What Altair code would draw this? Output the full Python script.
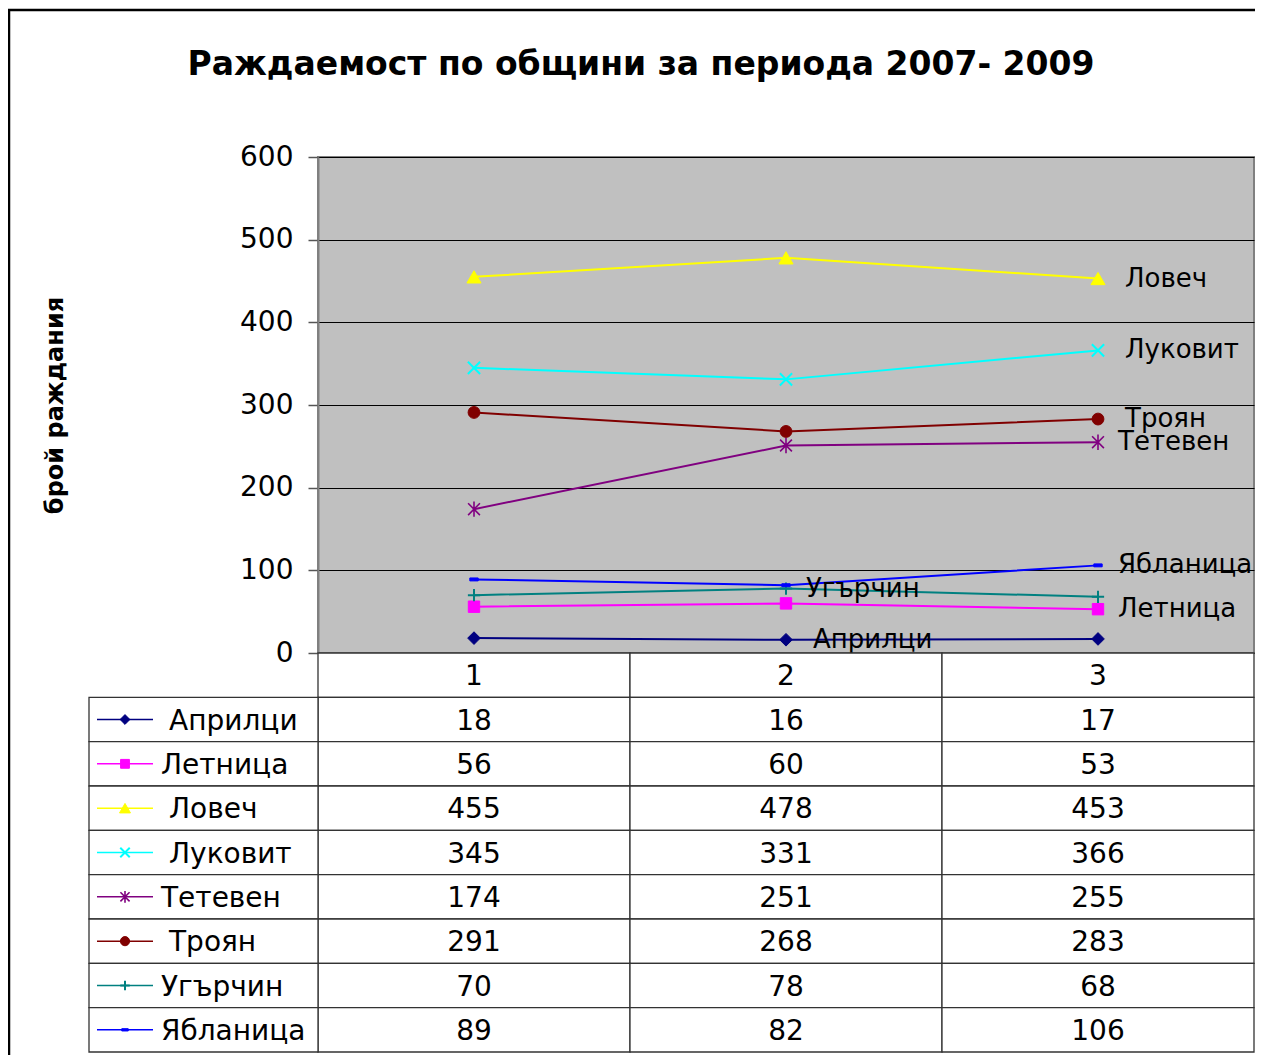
import altair as alt
import pandas as pd

# ---------------- data ----------------
series = ['Априлци', 'Летница', 'Ловеч', 'Луковит', 'Тетевен', 'Троян', 'Угърчин', 'Ябланица']
categories = ['1', '2', '3']
values_1 = [18, 56, 455, 345, 174, 291, 70, 89]
values_2 = [16, 60, 478, 331, 251, 268, 78, 82]
values_3 = [17, 53, 453, 366, 255, 283, 68, 106]
label_category = ['2', '3', '3', '3', '3', '3', '2', '3']
y_ticks = [0, 100, 200, 300, 400, 500, 600]
title_text = 'Раждаемост по общини за периода 2007- 2009'
y_title = 'брой раждания'

# ---------------- styles ----------------
colors = ['#000080', '#FF00FF', '#FFFF00', '#00FFFF', '#800080', '#800000', '#008080', '#0000FF']
shapes = ['diamond', 'square', 'triangle-up',
          'M-1,-1L1,1M-1,1L1,-1',
          'M-1,-1L1,1M-1,1L1,-1M0,-1.3L0,1.3',
          'circle',
          'M-1,0L1,0M0,-1L0,1',
          'M-1,-0.35L1,-0.35L1,0.35L-1,0.35Z']
sizes = [160, 130, 200, 150, 140, 140, 150, 70]
stroke_ws = [1, 1, 1, 2, 1.6, 1, 2, 1]
indented = [True, False, True, True, False, True, False, False]
FONT = 'DejaVu Sans'

value_cols = [values_1, values_2, values_3]

# ---------------- tables built from the arrays ----------------
long = pd.DataFrame([
    {'series': s, 'cat': c, 'value': value_cols[j][i]}
    for i, s in enumerate(series) for j, c in enumerate(categories)
])
labels = pd.DataFrame([
    {'series': s, 'cat': label_category[i],
     'value': value_cols[categories.index(label_category[i])][i],
     'indent': indented[i]}
    for i, s in enumerate(series)
])
row_keys = ['hdr'] + series
cells = pd.DataFrame(
    [{'row': 'hdr', 'cat': c, 'txt': c} for c in categories] +
    [{'row': s, 'cat': c, 'txt': str(value_cols[j][i])}
     for i, s in enumerate(series) for j, c in enumerate(categories)]
)
legend_rows = pd.DataFrame([{'row': s, 'series': s, 'indent': indented[i]} for i, s in enumerate(series)])
frame_df = pd.DataFrame({'k': [0]})

# ---------------- scales ----------------
xscale = alt.Scale(type='band', domain=categories, paddingInner=0, paddingOuter=0)
color_scale = alt.Scale(domain=series, range=colors)
X_band = alt.X('cat:N', scale=xscale, axis=None)
X_mid = alt.X('cat:N', scale=xscale, axis=None, bandPosition=0.5)

y_axis = alt.Axis(
    values=y_ticks, title=y_title,
    titleFont=FONT, titleFontSize=24, titleFontWeight='bold', titleColor='black',
    titleAngle=270, titleX=-263, titleY=248, titleAlign='center', titleBaseline='middle',
    labelFont=FONT, labelFontSize=28, labelColor='black', labelPadding=15,
    tickSize=10, tickColor='#555555', tickWidth=1.5,
    domainColor='#808080', domainWidth=2,
    grid=True, gridColor='#000000', gridWidth=1,
)
Y_val = alt.Y('value:Q', scale=alt.Scale(domain=[0, 600], nice=False), axis=y_axis)

yrow_scale = alt.Scale(type='band', domain=row_keys, range=[496, 895], paddingInner=0, paddingOuter=0)
Y_row = alt.Y('row:N', scale=yrow_scale, axis=None)
Y_row_mid = alt.Y('row:N', scale=yrow_scale, axis=None, bandPosition=0.5)

# ---------------- plot group ----------------
lines = alt.Chart(long).mark_line(strokeWidth=2).encode(
    x=X_mid, y=Y_val,
    color=alt.Color('series:N', scale=color_scale, legend=None),
)

plot_layers = [lines]
for i, s in enumerate(series):
    plot_layers.append(
        alt.Chart(long).transform_filter(alt.datum.series == s).mark_point(
            shape=shapes[i], size=sizes[i], filled=True, fill=colors[i], stroke=colors[i],
            strokeWidth=stroke_ws[i], opacity=1
        ).encode(x=X_mid, y=alt.Y('value:Q'))
    )

for ind, dx in [(True, 27), (False, 20)]:
    plot_layers.append(
        alt.Chart(labels).transform_filter(alt.datum.indent == ind).mark_text(
            align='left', baseline='middle', dx=dx, font=FONT, fontSize=26, color='black'
        ).encode(x=X_mid, y=alt.Y('value:Q'), text='series:N')
    )

plot_group = alt.layer(*plot_layers)

# ---------------- data table group ----------------
value_cells = alt.Chart(cells).mark_rect(fill='white', stroke='#333333', strokeWidth=1.3).encode(
    x=X_band, y=Y_row
)
legend_cells = alt.Chart(legend_rows).mark_rect(fill='white', stroke='#333333', strokeWidth=1.3).encode(
    x=alt.value(-229), x2=alt.value(0), y=Y_row
)
value_text = alt.Chart(cells).mark_text(
    align='center', baseline='middle', font=FONT, fontSize=28, color='black', dy=2
).encode(x=X_mid, y=Y_row_mid, text='txt:N')

legend_lines = alt.Chart(legend_rows).mark_rule(strokeWidth=1.5).encode(
    x=alt.value(-221), x2=alt.value(-165), y=Y_row_mid,
    color=alt.Color('series:N', scale=color_scale, legend=None),
)
table_layers = [value_cells, legend_cells, value_text, legend_lines]
for i, s in enumerate(series):
    table_layers.append(
        alt.Chart(legend_rows).transform_filter(alt.datum.series == s).mark_point(
            shape=shapes[i], size=sizes[i] * 0.6, filled=True, fill=colors[i], stroke=colors[i],
            strokeWidth=stroke_ws[i], opacity=1
        ).encode(x=alt.value(-193), y=Y_row_mid)
    )
for ind, xpos in [(True, -149), (False, -157)]:
    table_layers.append(
        alt.Chart(legend_rows).transform_filter(alt.datum.indent == ind).mark_text(
            align='left', baseline='middle', font=FONT, fontSize=28, color='black', dy=2
        ).encode(x=alt.value(xpos), y=Y_row_mid, text='series:N')
    )
table_group = alt.layer(*table_layers)

# ---------------- outer frame ----------------
frame = alt.Chart(frame_df).mark_rect(fillOpacity=0, stroke='black', strokeWidth=2.5).encode(
    x=alt.value(-309), x2=alt.value(1000), y=alt.value(-147), y2=alt.value(1000)
)

chart = alt.layer(frame, plot_group, table_group).resolve_scale(y='independent').properties(
    width=936, height=496,
    autosize=alt.AutoSizeParams(type='none'),
    padding={'left': 310, 'top': 149, 'right': 1, 'bottom': 402},
    title=alt.Title(title_text, font=FONT, fontSize=33, fontWeight='bold', color='black',
                    anchor='middle', frame='group', dx=-145, offset=-99, baseline='alphabetic'),
).configure(font=FONT).configure_view(fill='#C0C0C0', stroke='#808080', strokeWidth=2)

chart.save('out.html', embed_options={'renderer': 'svg', 'actions': False})
